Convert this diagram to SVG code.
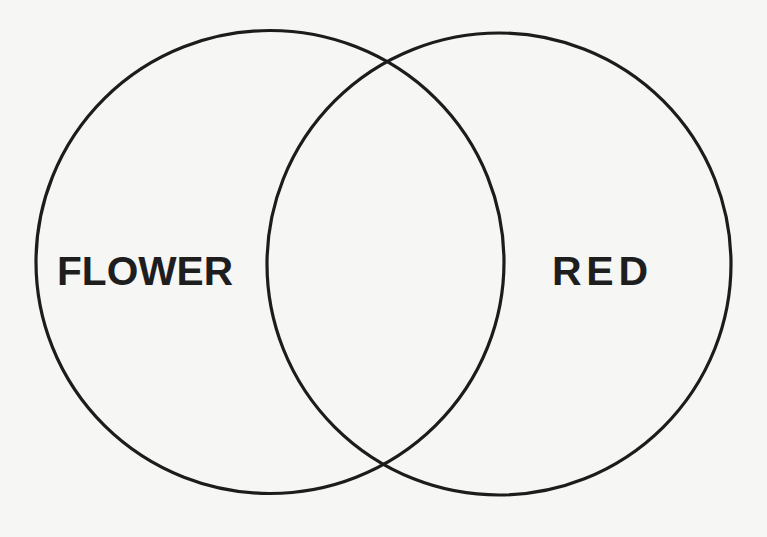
<svg xmlns="http://www.w3.org/2000/svg" width="767" height="537" viewBox="0 0 767 537">
<style>
.c{fill:none;stroke:#1c1c1c;stroke-width:3.2}
.t{font-family:"Liberation Sans",Arial,sans-serif;font-weight:bold;font-size:41px;fill:#1e1e1e}
</style>
<rect width="767" height="537" fill="#f6f6f5"/>
<g id="flower">
<ellipse class="c" cx="270" cy="262" rx="234" ry="231.5"/>
<text class="t" x="57" y="285" textLength="176" lengthAdjust="spacingAndGlyphs">FLOWER</text>
</g>
<g id="red">
<ellipse class="c" cx="499" cy="264" rx="232" ry="231"/>
<text class="t" x="552" y="285" textLength="96" lengthAdjust="spacing">RED</text>
</g>
<g id="connectors"/>
</svg>
